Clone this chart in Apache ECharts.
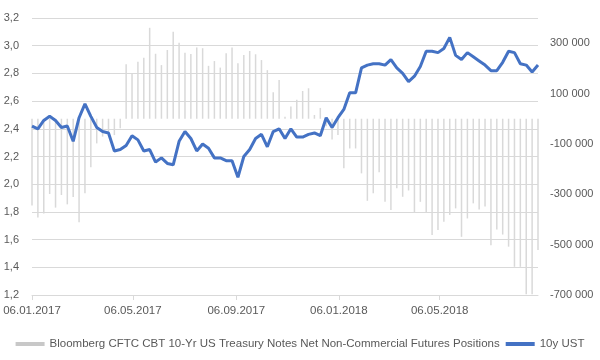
<!DOCTYPE html>
<html>
<head>
<meta charset="utf-8">
<script src="https://cdn.jsdelivr.net/npm/echarts@6/dist/echarts.min.js"></script>
<style>
html,body{margin:0;padding:0;background:#fff;}
#chart{width:600px;height:360px;}
</style>
</head>
<body>
<div id="chart"></div>
<script>
// Weekly observations starting 06.01.2017
const startDate = [2017, 0, 6];
const weekStep = 7;

const barName = 'Bloomberg CFTC CBT 10-Yr US Treasury Notes Net Non-Commercial Futures Positions';
const lineName = '10y UST';

const positions = [
  -345000, -392000, -376000, -299000, -353000, -303000, -340000, -311000, -411000, -296000,
  -193000, -98000, -71000, -52000, -65000, -38000, 216000, 180000, 226000, 242000,
  361000, 258000, 213000, 273000, 345000, 302000, 262000, 257000, 283000, 280000,
  210000, 229000, 203000, 260000, 283000, 220000, 253000, 269000, 256000, 233000,
  193000, 105000, 154000, 8000, 49000, 75000, 110000, 121000, 15000, 43000,
  -30000, -82000, -65000, -197000, -118000, -118000, -217000, -326000, -296000, -213000,
  -330000, -362000, -276000, -310000, -285000, -374000, -330000, -370000, -462000, -442000,
  -409000, -382000, -356000, -469000, -396000, -336000, -360000, -349000, -502000, -440000,
  -460000, -508000, -588000, -588000, -697000, -697000, -521000
];

const ust10y = [
  2.42, 2.40, 2.46, 2.49, 2.46, 2.41, 2.42, 2.31, 2.48, 2.58,
  2.49, 2.41, 2.38, 2.37, 2.24, 2.25, 2.28, 2.35, 2.32, 2.24,
  2.25, 2.16, 2.19, 2.15, 2.14, 2.31, 2.38, 2.33, 2.24, 2.29,
  2.26, 2.19, 2.19, 2.17, 2.17, 2.05, 2.20, 2.25, 2.33, 2.36,
  2.27, 2.38, 2.40, 2.33, 2.40, 2.34, 2.34, 2.36, 2.37, 2.35,
  2.48, 2.41, 2.48, 2.54, 2.66, 2.66, 2.84, 2.86, 2.87, 2.87,
  2.86, 2.90, 2.84, 2.80, 2.74, 2.78, 2.85, 2.96, 2.96, 2.95,
  2.98, 3.06, 2.93, 2.90, 2.95, 2.92, 2.89, 2.86, 2.82, 2.82,
  2.88, 2.96, 2.95, 2.87, 2.86, 2.81, 2.86
];

const xTickDates = [[2017,0,6],[2017,4,6],[2017,8,6],[2018,0,6],[2018,4,6]];
const leftTicks = [1.2, 1.4, 1.6, 1.8, 2.0, 2.2, 2.4, 2.6, 2.8, 3.0, 3.2];
const rightTickLabels = [-700000, -500000, -300000, -100000, 100000, 300000];

const dates = positions.map((_, i) => new Date(startDate[0], startDate[1], startDate[2] + weekStep * i).getTime());
const barData = positions.map((v, i) => [dates[i], v]);
const lineData = ust10y.map((v, i) => [dates[i], v]);
const xTicks = xTickDates.map(d => new Date(d[0], d[1], d[2]).getTime());

function pad(n){ return (n < 10 ? '0' : '') + n; }
function fmtDate(t){ const d = new Date(t); return pad(d.getDate()) + '.' + pad(d.getMonth() + 1) + '.' + d.getFullYear(); }
function fmtThousands(v){
  const s = Math.abs(Math.round(v)).toString().replace(/\B(?=(\d{3})+(?!\d))/g, ' ');
  return (v < 0 ? '-' : '') + s;
}

const textColor = '#595959';
const gridColor = '#d9d9d9';
const font = 'Liberation Sans';

const chart = echarts.init(document.getElementById('chart'), null, {renderer: 'canvas'});
chart.setOption({
  animation: false,
  backgroundColor: '#ffffff',
  grid: {left: 32, right: 62, top: 18, bottom: 65, containLabel: false},
  legend: {
    top: 333,
    left: 'center',
    itemGap: 6,
    itemWidth: 29,
    itemHeight: 4,
    textStyle: {color: textColor, fontSize: 11.5, fontFamily: font},
    data: [
      {name: barName, icon: 'rect', itemStyle: {color: '#c8c8c8'}},
      {name: lineName, icon: 'rect', itemStyle: {color: '#4472c4'}}
    ]
  },
  xAxis: {
    type: 'value',
    min: dates[0],
    max: dates[dates.length - 1],
    scale: true,
    splitLine: {show: false},
    axisLine: {show: true, onZero: false, lineStyle: {color: gridColor, width: 1}},
    axisTick: {show: true, customValues: xTicks, length: 5, lineStyle: {color: gridColor}},
    axisLabel: {
      customValues: xTicks,
      formatter: fmtDate,
      color: textColor, fontSize: 11.5, fontFamily: font, margin: 10,
      hideOverlap: false
    }
  },
  yAxis: [
    {
      type: 'value',
      min: leftTicks[0],
      max: leftTicks[leftTicks.length - 1],
      interval: 0.2,
      position: 'left',
      axisLine: {show: false},
      axisTick: {show: false},
      splitLine: {show: true, lineStyle: {color: gridColor, width: 1}},
      axisLabel: {
        formatter: v => v.toFixed(1).replace('.', ','),
        color: textColor, fontSize: 11, fontFamily: font, margin: 13
      }
    },
    {
      type: 'value',
      min: -700000,
      max: 400000,
      interval: 100000,
      position: 'right',
      axisLine: {show: false},
      axisTick: {show: false},
      splitLine: {show: false},
      axisLabel: {
        formatter: v => rightTickLabels.some(t => Math.abs(t - v) < 1) ? fmtThousands(v) : '',
        color: textColor, fontSize: 11, fontFamily: font, margin: 12
      }
    }
  ],
  series: [
    {
      name: barName,
      type: 'bar',
      yAxisIndex: 1,
      data: barData,
      barWidth: 1.5,
      itemStyle: {color: '#d9d9d9'},
      silent: true
    },
    {
      name: lineName,
      type: 'line',
      yAxisIndex: 0,
      data: lineData,
      symbol: 'none',
      lineStyle: {color: '#4472c4', width: 3},
      itemStyle: {color: '#4472c4'},
      z: 5
    }
  ]
});
</script>
</body>
</html>
